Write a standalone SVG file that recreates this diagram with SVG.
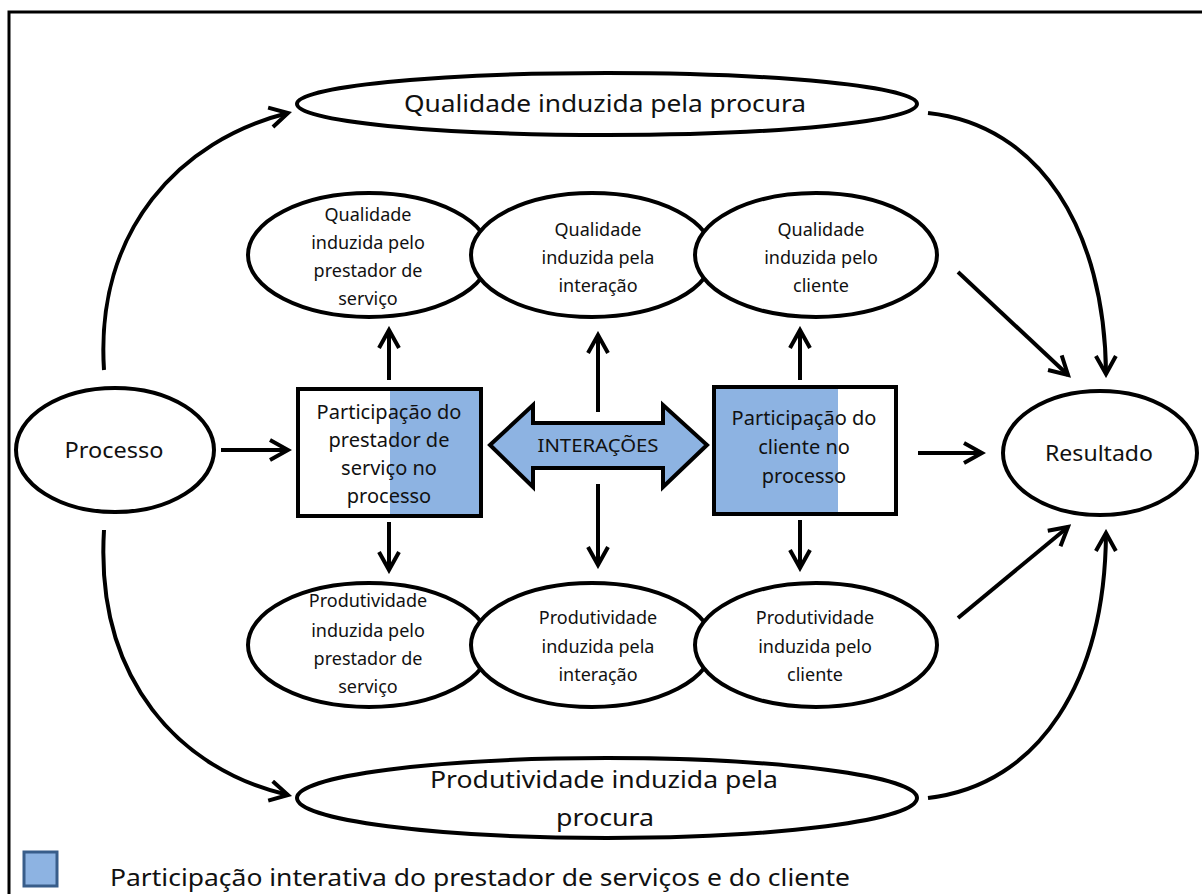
<svg xmlns="http://www.w3.org/2000/svg" width="1202" height="894" viewBox="0 0 1202 894">
<style>
.t{font-family:"Noto Sans","Open Sans",sans-serif;fill:#111;text-anchor:middle}
.s{font-size:18px}
.x{font-size:20px}
.m{font-size:22px}
.l{font-size:24px}
.e{fill:#fff;stroke:#000;stroke-width:4}
.c{fill:none;stroke:#000;stroke-width:4;marker-end:url(#ah)}
.b{fill:none;stroke:#000;stroke-width:4}
</style>
<defs>
<marker id="ah" viewBox="0 0 12 12" refX="10" refY="6" markerWidth="24" markerHeight="24" markerUnits="userSpaceOnUse" orient="auto">
<path d="M1,1 L10,6 L1,11" fill="none" stroke="#000" stroke-width="2"/>
</marker>
</defs>
<rect x="0" y="0" width="1202" height="894" fill="#fff"/>
<rect x="9" y="12" width="1210" height="900" fill="none" stroke="#000" stroke-width="3"/>

<g id="connectors">
<path class="c" d="M104,370 C95,230 180,140 288,113"/>
<path class="c" d="M104,530 C95,680 180,770 288,795"/>
<path class="c" d="M928,113 C1040,125 1105,230 1106,374"/>
<path class="c" d="M928,798 C1040,785 1105,680 1106,533"/>
<path class="c" d="M221,450 L288,450"/>
<path class="c" d="M918,453 L982,453"/>
<path class="c" d="M958,272 L1068,375"/>
<path class="c" d="M958,618 L1068,527"/>
<path class="c" d="M389,380 L389,330"/>
<path class="c" d="M389,522 L389,570"/>
<path class="c" d="M598,412 L598,335"/>
<path class="c" d="M598,484 L598,565"/>
<path class="c" d="M800,380 L800,330"/>
<path class="c" d="M800,520 L800,568"/>
</g>

<g id="q-procura">
<ellipse class="e" cx="607" cy="104" rx="310" ry="31"/>
<text class="t l" x="605" y="112" textLength="402" lengthAdjust="spacingAndGlyphs">Qualidade induzida pela procura</text>
</g>

<g id="p-procura">
<ellipse class="e" cx="607" cy="798" rx="310" ry="40"/>
<text class="t l" x="604" y="788" textLength="348" lengthAdjust="spacingAndGlyphs">Produtividade induzida pela</text>
<text class="t l" x="605" y="826" textLength="98" lengthAdjust="spacingAndGlyphs">procura</text>
</g>

<g id="processo">
<ellipse class="e" cx="115" cy="450" rx="99" ry="62"/>
<text class="t m" x="114" y="458" textLength="99" lengthAdjust="spacingAndGlyphs">Processo</text>
</g>

<g id="resultado">
<ellipse class="e" cx="1100" cy="453" rx="97" ry="62"/>
<text class="t m" x="1099" y="461" textLength="108" lengthAdjust="spacingAndGlyphs">Resultado</text>
</g>

<g id="q-prestador">
<ellipse class="e" cx="369" cy="255" rx="121" ry="62"/>
</g>
<g id="q-interacao">
<ellipse class="e" cx="592" cy="255" rx="121" ry="62"/>
</g>
<g id="q-cliente">
<ellipse class="e" cx="816" cy="255" rx="121" ry="62"/>
</g>
<g id="q-texts">
<text class="t s" x="368" y="221">Qualidade</text>
<text class="t s" x="368" y="249">induzida pelo</text>
<text class="t s" x="368" y="277">prestador de</text>
<text class="t s" x="368" y="305">serviço</text>
<text class="t s" x="598" y="236">Qualidade</text>
<text class="t s" x="598" y="264">induzida pela</text>
<text class="t s" x="598" y="292">interação</text>
<text class="t s" x="821" y="236">Qualidade</text>
<text class="t s" x="821" y="264">induzida pelo</text>
<text class="t s" x="821" y="292">cliente</text>
</g>

<g id="p-prestador">
<ellipse class="e" cx="369" cy="645" rx="121" ry="62"/>
</g>
<g id="p-interacao">
<ellipse class="e" cx="592" cy="645" rx="121" ry="62"/>
</g>
<g id="p-cliente">
<ellipse class="e" cx="816" cy="645" rx="121" ry="62"/>
</g>
<g id="p-texts">
<text class="t s" x="368" y="607">Produtividade</text>
<text class="t s" x="368" y="637">induzida pelo</text>
<text class="t s" x="368" y="665">prestador de</text>
<text class="t s" x="368" y="693">serviço</text>
<text class="t s" x="598" y="624">Produtividade</text>
<text class="t s" x="598" y="653">induzida pela</text>
<text class="t s" x="598" y="681">interação</text>
<text class="t s" x="815" y="624">Produtividade</text>
<text class="t s" x="815" y="653">induzida pelo</text>
<text class="t s" x="815" y="681">cliente</text>
</g>

<g id="part-prestador">
<rect x="298" y="389" width="183" height="127" fill="#fff"/>
<rect x="390" y="389" width="91" height="127" fill="#8DB3E2"/>
<rect class="b" x="298" y="389" width="183" height="127"/>
<text class="t x" x="389" y="419">Participação do</text>
<text class="t x" x="389" y="447">prestador de</text>
<text class="t x" x="389" y="475">serviço no</text>
<text class="t x" x="389" y="503">processo</text>
</g>

<g id="part-cliente">
<rect x="714" y="387" width="182" height="127" fill="#fff"/>
<rect x="714" y="387" width="124" height="127" fill="#8DB3E2"/>
<rect class="b" x="714" y="387" width="182" height="127"/>
<text class="t x" x="804" y="425">Participação do</text>
<text class="t x" x="804" y="454">cliente no</text>
<text class="t x" x="804" y="483">processo</text>
</g>

<g id="interacoes">
<path d="M490,445 L533,405 L533,423 L663,423 L663,405 L707,445 L663,487 L663,468 L533,468 L533,487 Z" fill="#8DB3E2" stroke="#000" stroke-width="4" stroke-linejoin="miter"/>
<text class="t s" x="598" y="452" textLength="121" lengthAdjust="spacingAndGlyphs">INTERAÇÕES</text>
</g>

<g id="legend">
<rect x="24" y="852" width="33" height="34" fill="#8DB3E2" stroke="#385D8A" stroke-width="3"/>
<text class="t l" x="480" y="886" textLength="740" lengthAdjust="spacingAndGlyphs">Participação interativa do prestador de serviços e do cliente</text>
</g>
</svg>
